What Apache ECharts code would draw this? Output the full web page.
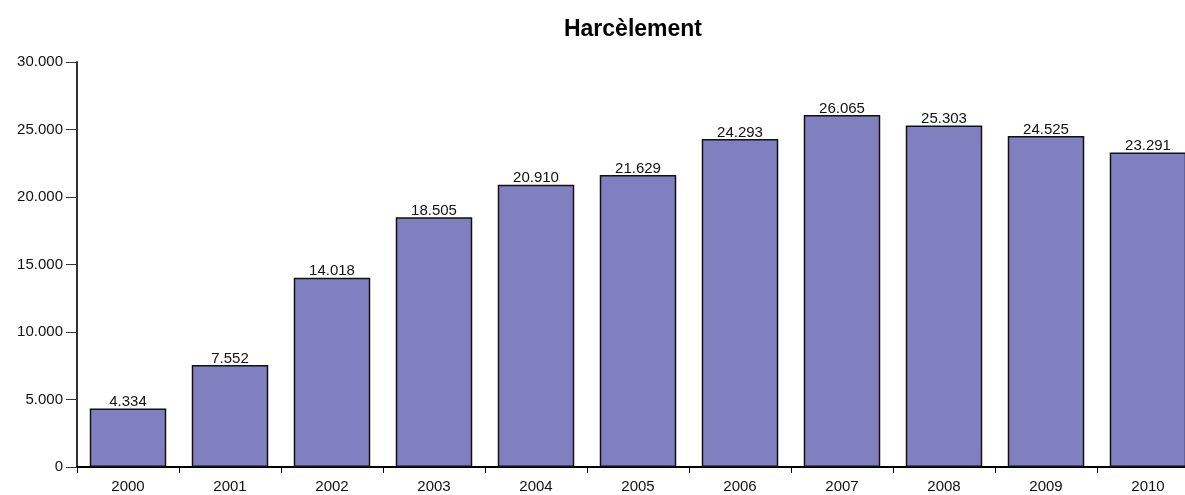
<!DOCTYPE html>
<html>
<head>
<meta charset="utf-8">
<script src="https://cdn.jsdelivr.net/npm/echarts@6/dist/echarts.min.js"></script>
<style>
  html, body { margin: 0; padding: 0; background: #fff; overflow: hidden; }
  /* the reference is clipped on the right, so the canvas is a bit wider than the window */
  #chart { width: 1199px; height: 495px; }
</style>
</head>
<body>
<div id="chart"></div>
<script>
var years = ['2000', '2001', '2002', '2003', '2004', '2005', '2006', '2007', '2008', '2009', '2010'];
var values = [4334, 7552, 14018, 18505, 20910, 21629, 24293, 26065, 25303, 24525, 23291];

// 12345 -> "12.345"
function fmt(v) {
  return String(v).replace(/\B(?=(\d{3})+(?!\d))/g, '.');
}

var chart = echarts.init(document.getElementById('chart'));

var option = {
  backgroundColor: '#fff',
  animation: false,
  title: {
    text: 'Harcèlement',
    left: 628,
    top: 13,
    textAlign: 'center',
    textStyle: { fontFamily: 'Liberation Sans', fontSize: 23, fontWeight: 'bold', color: '#000' }
  },
  grid: { left: 77, top: 62, width: 1122, height: 405 },
  xAxis: {
    type: 'category',
    data: years,
    axisLine: { lineStyle: { color: '#000', width: 2 } },
    axisTick: { show: true, length: 6, lineStyle: { color: '#000' } },
    axisLabel: { color: '#111', fontFamily: 'Liberation Sans', fontSize: 15, margin: 12 }
  },
  yAxis: {
    type: 'value',
    min: 0,
    max: 30000,
    interval: 5000,
    splitLine: { show: false },
    axisLine: { show: true, lineStyle: { color: '#333', width: 2 } },
    axisTick: { show: true, length: 11, lineStyle: { color: '#333' } },
    axisLabel: {
      color: '#111', fontFamily: 'Liberation Sans', fontSize: 15, margin: 14,
      formatter: function (v) { return fmt(v); }
    }
  },
  series: [{
    type: 'bar',
    data: values,
    barCategoryGap: '25%',
    itemStyle: { color: '#8080c0', borderColor: '#111', borderWidth: 1.5 },
    label: {
      show: true,
      position: 'top',
      distance: -1,
      color: '#111',
      fontFamily: 'Liberation Sans',
      fontSize: 15,
      formatter: function (p) { return fmt(p.value); }
    }
  }]
};

chart.setOption(option);
</script>
</body>
</html>
